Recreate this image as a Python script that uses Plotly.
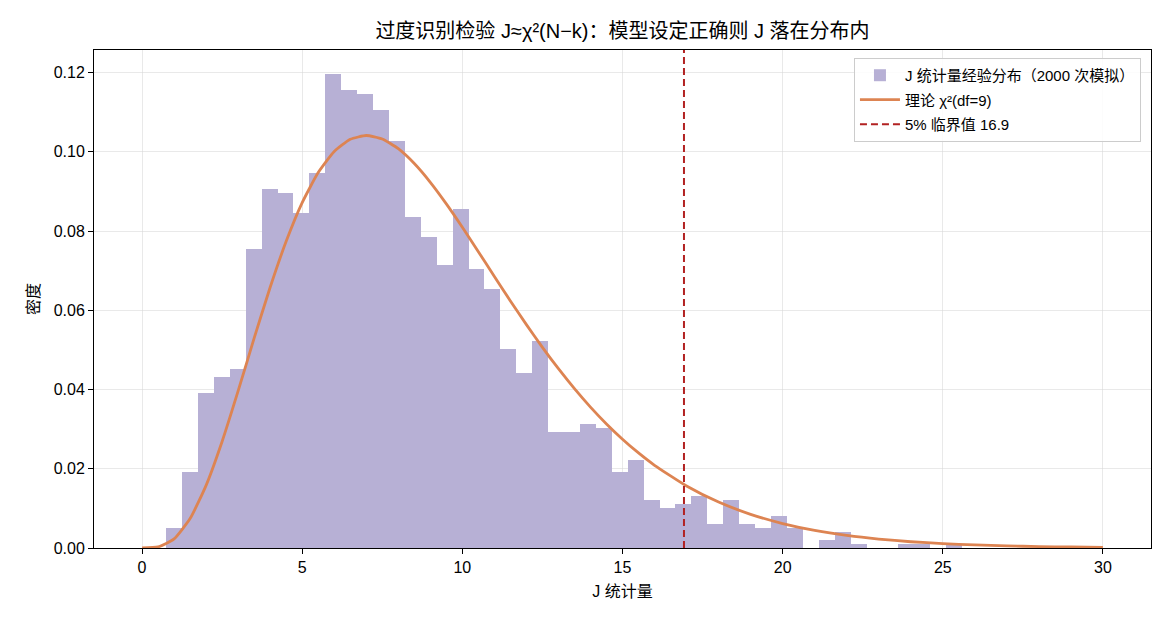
import plotly.graph_objects as go

# ---------------- data ----------------
n_sims = 2000
bin_start = 0.75
bin_end = 25.6
counts = [5, 19, 39, 43, 45, 75, 90, 89, 84, 94,
          119, 115, 114, 110, 102, 83, 78, 71, 85, 70,
          65, 50, 44, 52, 29, 29, 31, 30, 19, 22,
          12, 10, 11, 13, 6, 12, 6, 5, 8, 5,
          0, 2, 4, 1, 0, 0, 1, 1, 0, 1]

# theoretical chi2(df=9) density, tabulated
curve_x = [0, 0.5, 1, 1.5, 2, 2.5, 3, 3.5, 4, 4.5, 5, 5.5, 6, 6.5, 7, 7.5, 8, 8.5,
           9, 9.5, 10, 10.5, 11, 11.5, 12, 12.5, 13, 13.5, 14, 14.5, 15, 15.5,
           16, 17, 18, 19, 20, 21, 22, 23, 24, 25, 26, 27, 28, 29, 30]
curve_y = [0.0, 0.000262, 0.002305, 0.007419, 0.015814, 0.026894, 0.039646, 0.05296,
           0.065819, 0.07741, 0.087174, 0.09477, 0.10009, 0.10315, 0.10412, 0.10324,
           0.10078, 0.09704, 0.09231, 0.08687, 0.08096, 0.07479, 0.06855, 0.06237,
           0.05638, 0.05065, 0.04525, 0.04022, 0.03557, 0.03132, 0.02747, 0.02399,
           0.02088, 0.01566, 0.01160, 0.008503, 0.006172, 0.004440, 0.003169,
           0.002246, 0.001581, 0.001106, 0.000770, 0.000533, 0.000367, 0.000252,
           0.000172]

crit_value = 16.919
crit_label = "5% 临界值 16.9"
hist_label = "J 统计量经验分布（2000 次模拟）"
curve_label = "理论 χ²(df=9)"
title_text = "过度识别检验 J≈χ²(N−k)：模型设定正确则 J 落在分布内"
x_ticks = [0, 5, 10, 15, 20, 25, 30]
y_ticks = [0.00, 0.02, 0.04, 0.06, 0.08, 0.10, 0.12]

# ---------------- derived ----------------
n_bins = len(counts)
bw = (bin_end - bin_start) / n_bins
centers = [bin_start + (i + 0.5) * bw for i in range(n_bins)]
density = [c / (n_sims * bw) for c in counts]

y_top = max(density) * 1.05
x_range = [-1.5, 31.5]

FONT = "Liberation Sans, Arial, Noto Sans CJK SC, sans-serif"

fig = go.Figure()
fig.add_trace(go.Bar(
    x=centers, y=density, width=bw,
    marker=dict(color="rgb(183,176,213)", line=dict(width=0)),
    name=hist_label, legendgroup="a",
))
fig.add_trace(go.Scatter(
    x=curve_x, y=curve_y, mode="lines",
    line=dict(color="#dd8452", width=2.8, shape="spline", smoothing=0.5),
    name=curve_label, legendgroup="b",
))
fig.add_trace(go.Scatter(
    x=[crit_value, crit_value], y=[0, y_top], mode="lines",
    line=dict(color="#b22222", width=2, dash="7px,4px"),
    name=crit_label, legendgroup="c",
))

axis_common = dict(
    showline=True, linecolor="black", linewidth=1, mirror=True,
    ticks="outside", ticklen=5, tickcolor="black", tickwidth=1,
    showgrid=True, gridcolor="rgba(215,215,215,0.55)", gridwidth=1,
    zeroline=False, layer="above traces",
    tickfont=dict(size=16, color="black", family=FONT),
)

fig.update_layout(
    width=1170, height=624,
    margin=dict(l=94, r=19, t=50, b=76),
    paper_bgcolor="white", plot_bgcolor="white",
    bargap=0,
    font=dict(family=FONT, color="black"),
    title=dict(text=title_text, x=(94 + 1151) / 2 / 1170, xanchor="center",
               y=1 - 31 / 624, yanchor="middle",
               font=dict(size=20, color="black", family=FONT)),
    xaxis=dict(axis_common, range=x_range, tickvals=x_ticks,
               title=dict(text="J 统计量", font=dict(size=16, family=FONT), standoff=10)),
    yaxis=dict(axis_common, range=[0, y_top], tickvals=y_ticks, tickformat=".2f",
               title=dict(text="密度", font=dict(size=16, family=FONT), standoff=10)),
    legend=dict(x=0.9905, y=0.984, xanchor="right", yanchor="top",
                bgcolor="rgba(255,255,255,0.85)", bordercolor="#cccccc", borderwidth=1,
                font=dict(size=15, family=FONT), tracegroupgap=2, itemwidth=40),
    showlegend=True,
)

fig.write_html("out.html")
